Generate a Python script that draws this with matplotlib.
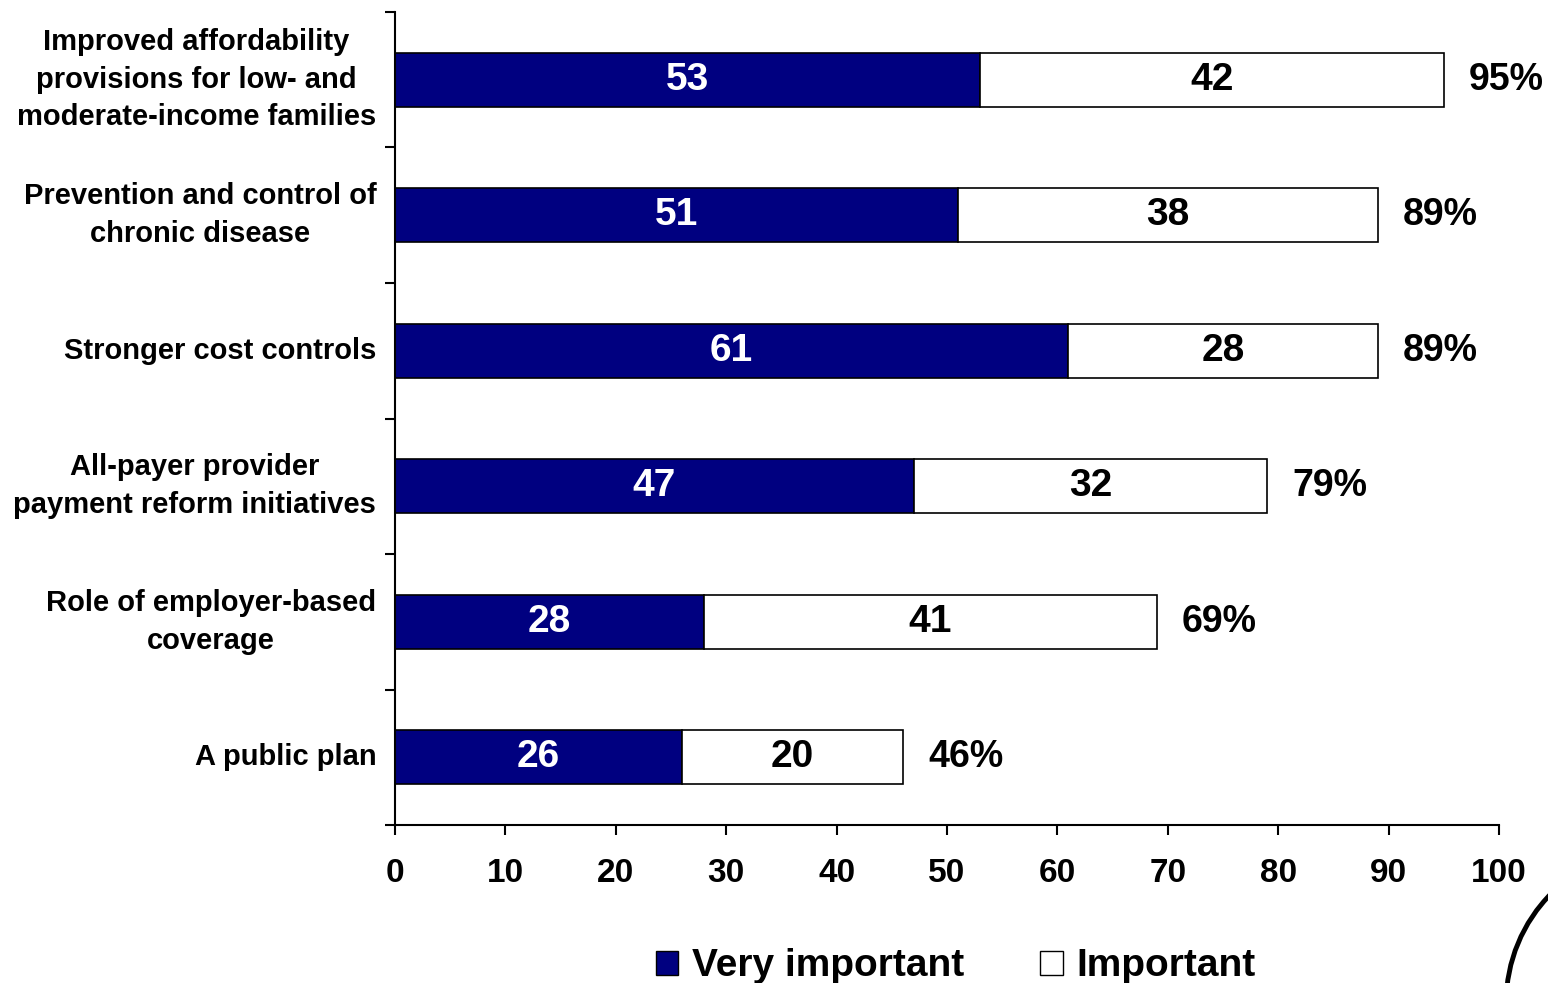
import matplotlib.pyplot as plt
from matplotlib.patches import Arc, Patch

categories = [
    "Improved affordability\nprovisions for low- and\nmoderate-income families",
    "Prevention and control of\nchronic disease",
    "Stronger cost controls",
    "All-payer provider\npayment reform initiatives",
    "Role of employer-based\ncoverage",
    "A public plan",
]
very_important = [53, 51, 61, 47, 28, 26]
important = [42, 38, 28, 32, 41, 20]
totals = [95, 89, 89, 79, 69, 46]
x_ticks = [0, 10, 20, 30, 40, 50, 60, 70, 80, 90, 100]

NAVY = "#000080"
plt.rcParams["font.family"] = ["Liberation Sans", "DejaVu Sans"]

fig = plt.figure(figsize=(15.48, 9.83), dpi=100)
ax = fig.add_axes([0.2552, 0.1607, 0.7131, 0.8271])

y = list(range(len(categories)))
ax.barh(y, very_important, height=0.4, color=NAVY, edgecolor="black", linewidth=1.2)
ax.barh(y, important, left=very_important, height=0.4, color="white",
        edgecolor="black", linewidth=1.2)

for i, (v, w, t) in enumerate(zip(very_important, important, totals)):
    ax.text(v / 2, i, str(v), ha="center", va="center", color="white",
            fontsize=28, fontweight="bold")
    ax.text(v + w / 2, i, str(w), ha="center", va="center", color="black",
            fontsize=28, fontweight="bold")
    ax.text(t + 2.3, i, f"{t}%", ha="left", va="center", color="black",
            fontsize=27, fontweight="bold")

ax.set_ylim(len(categories) - 0.5, -0.5)
ax.set_xlim(0, 100)
ax.set_xticks(x_ticks)
ax.set_xticklabels([str(t) for t in x_ticks], fontsize=24, fontweight="bold")
ax.tick_params(axis="x", length=7, width=1.5, pad=17)

# category boundaries carry the y ticks; labels sit at bar centres
ax.set_yticks([i - 0.5 for i in range(len(categories) + 1)])
ax.set_yticklabels([])
ax.tick_params(axis="y", length=7, width=1.5)
for i, cat in enumerate(categories):
    ax.text(-0.017, i, cat, transform=ax.get_yaxis_transform(), ha="right",
            va="center", multialignment="center", fontsize=21,
            fontweight="bold", linespacing=1.44)

for side in ["top", "right"]:
    ax.spines[side].set_visible(False)
for side in ["left", "bottom"]:
    ax.spines[side].set_linewidth(1.5)

handles = [
    Patch(facecolor=NAVY, edgecolor="black", label="Very important"),
    Patch(facecolor="white", edgecolor="black", label="Important"),
]
fig.legend(handles=handles, loc="center", bbox_to_anchor=(0.6176, 0.017),
           ncol=2, frameon=False, prop={"size": 28, "weight": "bold"},
           handlelength=0.57, handleheight=0.57, handletextpad=0.36,
           columnspacing=1.95, borderpad=0.0)

# decorative arc in the lower right corner
fig.patches.append(Arc((1.073, -0.02), 0.2, 0.2 * 15.48 / 9.83,
                       theta1=90, theta2=180, transform=fig.transFigure,
                       color="black", linewidth=3.5))

fig.savefig("out.png", dpi=100)
